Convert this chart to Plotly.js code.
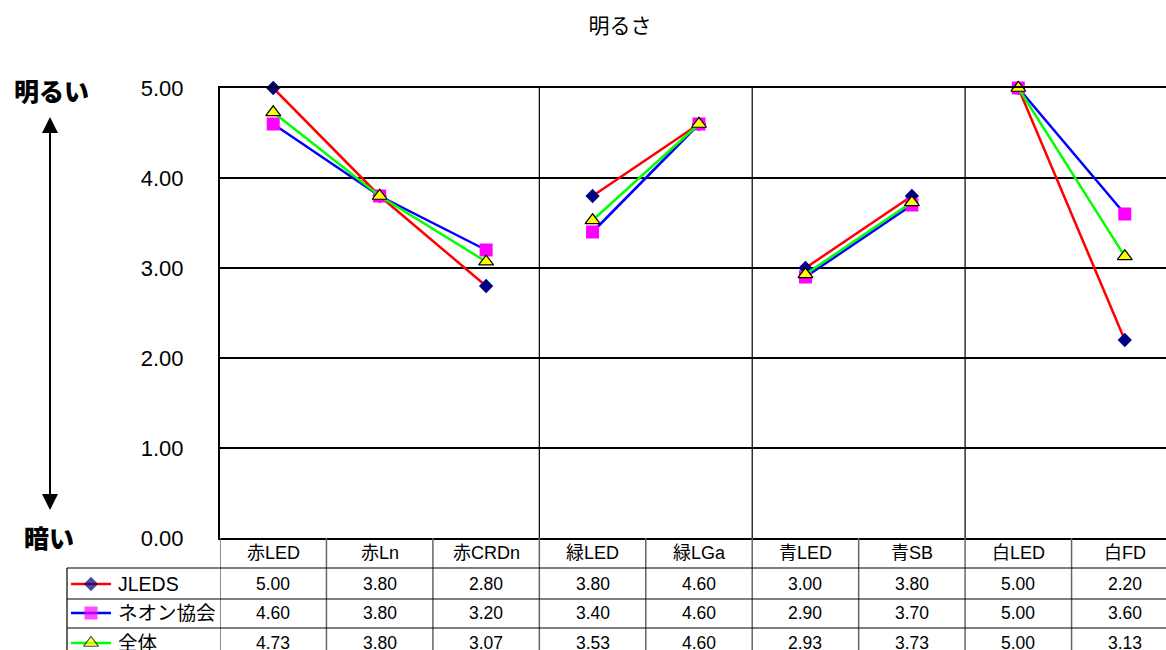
<!DOCTYPE html>
<html>
<head>
<meta charset="utf-8">
<script src="https://cdn.plot.ly/plotly-3.0.1.min.js"></script>
<style>
html,body{margin:0;padding:0;overflow:hidden;background:#fff;}
#chart{width:1190px;height:650px;}
</style>
</head>
<body>
<div id="chart"></div>
<script>
// ---- data ----
const categories = ['赤LED','赤Ln','赤CRDn','緑LED','緑LGa','青LED','青SB','白LED','白FD'];
const groupSizes = [3, 2, 2, 2];
const seriesNames = ['JLEDS', 'ネオン協会', '全体'];
const jleds  = [5.00, 3.80, 2.80, 3.80, 4.60, 3.00, 3.80, 5.00, 2.20];
const neon   = [4.60, 3.80, 3.20, 3.40, 4.60, 2.90, 3.70, 5.00, 3.60];
const zentai = [4.73, 3.80, 3.07, 3.53, 4.60, 2.93, 3.73, 5.00, 3.13];
const yTickVals = [0, 1, 2, 3, 4, 5];
const chartTitle = '明るさ';
const topLabel = '明るい';
const bottomLabel = '暗い';

// ---- styles ----
const W = 1190, H = 650;
const plotL = 220, plotR = 1178, plotT = 88, plotB = 538;
const FONT = "'Liberation Sans', Arial, 'Noto Sans CJK JP', sans-serif";
const styles = [
  {line: '#FF0000', symbol: 'diamond', color: '#000080', size: 11, lw: 0, lc: '#000080'},
  {line: '#0000FF', symbol: 'square', color: '#FF00FF', size: 13, lw: 0, lc: '#FF00FF'},
  {line: '#00FF00', symbol: 'triangle-up', color: '#FFFF00', size: 13, lw: 1.2, lc: '#000000'}
];
const seriesData = [jleds, neon, zentai];
const rowY = [584, 613, 643];   // table row centres (px)
const headerY = 553;
const rowLines = [568, 599, 628];

// build line segments broken between groups
function segmented(vals) {
  const xs = [], ys = [];
  let idx = 0;
  groupSizes.forEach((g, gi) => {
    for (let k = 0; k < g; k++) { xs.push(idx); ys.push(vals[idx]); idx++; }
    if (gi < groupSizes.length - 1) { xs.push(null); ys.push(null); }
  });
  return {xs, ys};
}

const traces = [];
seriesData.forEach((vals, i) => {
  const s = segmented(vals);
  const st = styles[i];
  traces.push({
    type: 'scatter', mode: 'lines+markers', name: seriesNames[i],
    x: s.xs, y: s.ys, xaxis: 'x', yaxis: 'y', cliponaxis: false,
    connectgaps: false,
    line: {color: st.line, width: 2.5},
    marker: {symbol: st.symbol, color: st.color, size: st.size, line: {width: st.lw, color: st.lc}},
    hoverinfo: 'skip'
  });
});

// legend keys in the table (pixel subplot)
seriesNames.forEach((n, i) => {
  const st = styles[i];
  traces.push({
    type: 'scatter', mode: 'lines+markers', x: [71, 91, 111], y: [rowY[i], rowY[i], rowY[i]],
    xaxis: 'x2', yaxis: 'y2', cliponaxis: false, showlegend: false, hoverinfo: 'skip',
    line: {color: st.line, width: 2.5},
    marker: {symbol: st.symbol, color: st.color, size: [0, st.size, 0], line: {width: [0, st.lw, 0], color: st.lc}}
  });
});

const shapes = [];
const annotations = [];

// group separators inside the plot
let acc = 0;
groupSizes.slice(0, -1).forEach(g => {
  acc += g;
  shapes.push({type: 'line', xref: 'x', yref: 'y', x0: acc - 0.5, x1: acc - 0.5, y0: 0, y1: 5,
    line: {color: '#000', width: 1.2}, layer: 'below'});
});

// table: vertical lines
for (let k = 0; k <= categories.length; k++) {
  shapes.push({type: 'line', xref: 'x', yref: 'y2', x0: k - 0.5, x1: k - 0.5, y0: plotB, y1: H + 5,
    line: {color: '#666', width: 1.5}});
}
// table: horizontal lines
rowLines.forEach(y => {
  shapes.push({type: 'line', xref: 'x2', yref: 'y2', x0: 67, x1: W, y0: y, y1: y,
    line: {color: '#000', width: 1.2}});
});
// legend column left border
shapes.push({type: 'line', xref: 'x2', yref: 'y2', x0: 67, x1: 67, y0: rowLines[0], y1: H + 5,
  line: {color: '#000', width: 1.2}});

// arrow
shapes.push({type: 'line', xref: 'x2', yref: 'y2', x0: 50, x1: 50, y0: 128, y1: 498, line: {color: '#000', width: 2}});
shapes.push({type: 'path', xref: 'x2', yref: 'y2', path: 'M50,117 L42,133 L58,133 Z', fillcolor: '#000', line: {width: 0}});
shapes.push({type: 'path', xref: 'x2', yref: 'y2', path: 'M50,510 L42,494 L58,494 Z', fillcolor: '#000', line: {width: 0}});

// table text
categories.forEach((c, i) => {
  annotations.push({xref: 'x', yref: 'y2', x: i, y: headerY, text: c, showarrow: false,
    font: {family: FONT, size: 18, color: '#000'}, xanchor: 'center', yanchor: 'middle'});
  seriesData.forEach((vals, r) => {
    annotations.push({xref: 'x', yref: 'y2', x: i, y: rowY[r], text: vals[i].toFixed(2), showarrow: false,
      font: {family: FONT, size: 17.5, color: '#000'}, xanchor: 'center', yanchor: 'middle'});
  });
});
seriesNames.forEach((n, r) => {
  annotations.push({xref: 'x2', yref: 'y2', x: 116, y: rowY[r], text: n, showarrow: false,
    font: {family: FONT, size: 19.5, color: '#000'}, xanchor: 'left', yanchor: 'middle'});
});

// side labels
annotations.push({xref: 'x2', yref: 'y2', x: 51, y: 90, text: topLabel, showarrow: false,
  font: {family: "'Noto Sans CJK JP', sans-serif", size: 25, color: '#000', weight: 900}, xanchor: 'center', yanchor: 'middle'});
annotations.push({xref: 'x2', yref: 'y2', x: 49, y: 537, text: bottomLabel, showarrow: false,
  font: {family: "'Noto Sans CJK JP', sans-serif", size: 25, color: '#000', weight: 900}, xanchor: 'center', yanchor: 'middle'});

const layout = {
  width: W, height: H,
  margin: {l: 0, r: 0, t: 0, b: 0, pad: 0},
  paper_bgcolor: '#fff', plot_bgcolor: 'rgba(0,0,0,0)',
  showlegend: false,
  title: {text: chartTitle, x: 620 / W, xref: 'container', xanchor: 'center',
          y: 1 - 26 / H, yref: 'container', yanchor: 'middle',
          font: {family: "'Noto Sans CJK JP', sans-serif", size: 21, color: '#000'}},
  xaxis: {domain: [plotL / W, plotR / W], range: [-0.5, categories.length - 0.5], anchor: 'y',
          showticklabels: false, showgrid: false, zeroline: false, ticks: '',
          showline: true, mirror: true, linecolor: '#000', linewidth: 2, fixedrange: true},
  yaxis: {domain: [(H - plotB) / H, (H - plotT) / H], range: [0, 5], anchor: 'x',
          tickvals: yTickVals, tickformat: '.2f', ticks: '', ticklabelstandoff: 30,
          tickfont: {family: FONT, size: 22, color: '#000'},
          showgrid: true, gridcolor: '#000', gridwidth: 1.2, zeroline: false,
          showline: true, mirror: true, linecolor: '#000', linewidth: 2, fixedrange: true},
  xaxis2: {domain: [0, 1], range: [0, W], anchor: 'y2', visible: false, fixedrange: true},
  yaxis2: {domain: [0, 1], range: [H, 0], anchor: 'x2', visible: false, fixedrange: true},
  shapes: shapes,
  annotations: annotations
};

Plotly.newPlot('chart', traces, layout, {staticPlot: true, displayModeBar: false});
</script>
</body>
</html>
